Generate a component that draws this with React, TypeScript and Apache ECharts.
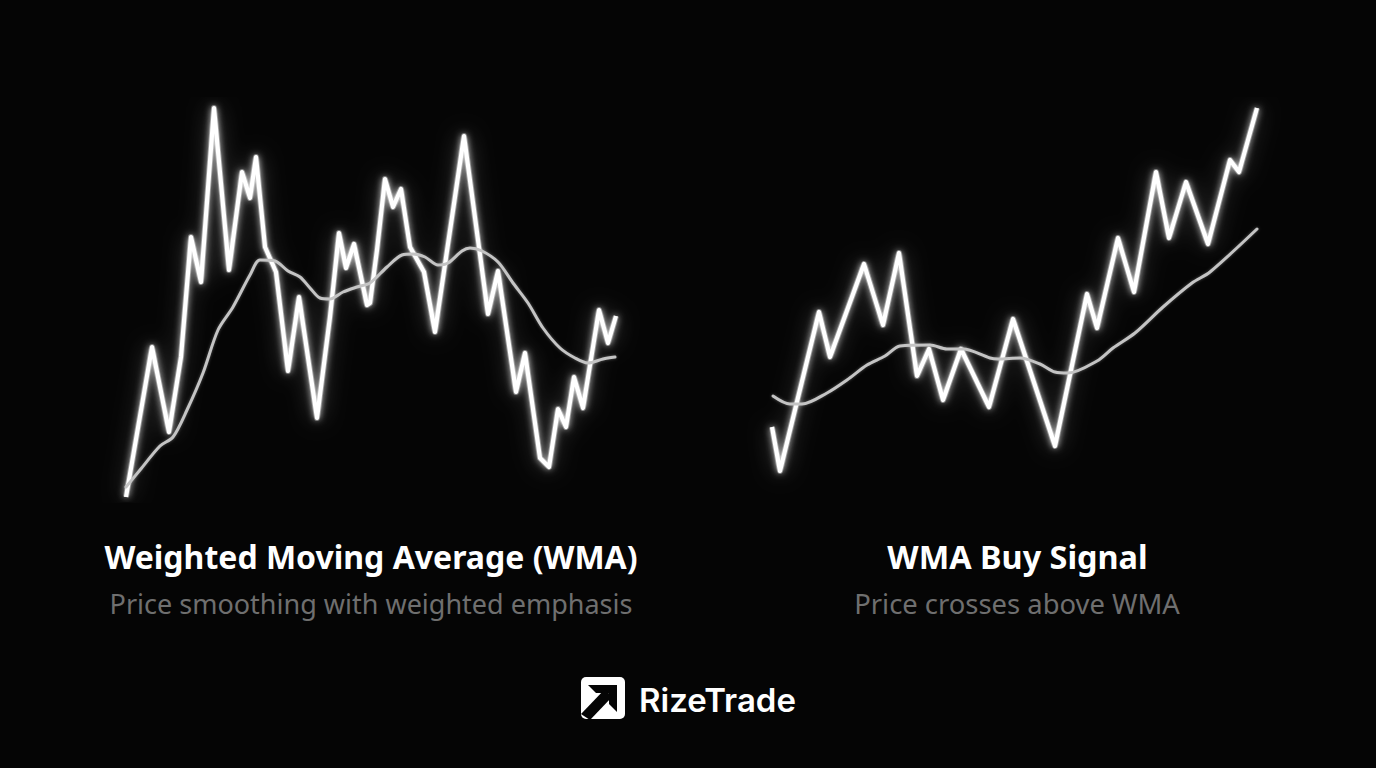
import React, { useEffect, useRef } from "react";
import * as echarts from "echarts";

const leftPriceX = [26,52,69,81,91,101,114,129,142,150,156,165,176,188,199,217,230,239,246,254,267,270,277,285,293,301,310,324,335,364,388,398,416,425,440,449,458,466,474,483,499,508,516];
const leftPriceY = [3,153,68,143,263,218,392,230,328,302,343,253,228,129,203,82,183,267,232,256,195,197,250,321,293,311,253,228,168,364,186,229,108,147,42,33,91,73,123,92,190,157,184];
const leftWmaX = [26,40,60,73,87,103,118,133,150,160,175,188,200,210,220,230,243,257,270,287,302,313,325,338,348,362,370,382,398,413,428,443,460,475,488,503,515];
const leftWmaY = [13,30,54,63,90,127,170,193,225,240,239,229,223,212,202,201,208,213,217,233,245,246,243,235,237,249,252,249,238,217,197,172,152,142,137,141,143];
const rightPriceX = [22,30,69,80,114,133,149,167,179,193,211,239,263,305,337,347,368,384,406,419,436,458,480,489,507];
const rightPriceY = [73,29,188,143,236,175,247,124,151,100,151,93,181,54,206,172,262,208,328,262,318,256,340,328,392];
const rightWmaX = [23,40,52,77,97,117,135,150,180,197,213,240,248,270,290,305,318,347,363,385,413,442,460,507];
const rightWmaY = [104,96,96,107,120,135,144,154,155,151,151,142,141,142,136,128,127,139,152,167,193,217,228,271];

const title1 = "Weighted Moving Average (WMA)";
const sub1 = "Price smoothing with weighted emphasis";
const title2 = "WMA Buy Signal";
const sub2 = "Price crosses above WMA";
const brand = "RizeTrade";

const zip = (xs: number[], ys: number[]) => xs.map((x, i) => [x, ys[i]]);

const priceGlow = (i: number, data: number[][], name: string) => ({
  type: "line", name, xAxisIndex: i, yAxisIndex: i, data, showSymbol: false, z: 2,
  lineStyle: { color: "rgba(255,255,255,0.35)", width: 6, cap: "butt", join: "round", shadowBlur: 22, shadowColor: "rgba(255,255,255,0.7)" },
});
const priceLine = (i: number, data: number[][], name: string) => ({
  type: "line", name, xAxisIndex: i, yAxisIndex: i, data, showSymbol: false, z: 3,
  lineStyle: { color: "#ffffff", width: 4.2, cap: "butt", join: "round", shadowBlur: 7, shadowColor: "rgba(255,255,255,0.9)" },
});
const wmaLine = (i: number, data: number[][], name: string) => ({
  type: "line", name, xAxisIndex: i, yAxisIndex: i, data, showSymbol: false, z: 4, smooth: 0.3,
  lineStyle: { color: "#c4c4c4", width: 3, cap: "round", shadowBlur: 3, shadowColor: "rgba(255,255,255,0.3)" },
});

const xAxis = (gridIndex: number) => ({ type: "value", gridIndex, min: 0, max: 540, show: false });
const yAxis = (gridIndex: number) => ({ type: "value", gridIndex, min: 0, max: 400, show: false });

const txt = (text: string, x: number, y: number, size: number, weight: number, fill: string, family: string, align = "center") => ({
  type: "text", x, y,
  style: { text, fill, fontSize: size, fontWeight: weight, fontFamily: family, align, verticalAlign: "middle" },
});

export default function App() {
  const ref = useRef<HTMLDivElement>(null);
  useEffect(() => {
    document.body.style.margin = "0";
    document.body.style.background = "#050505";
    const chart = echarts.init(ref.current!, null, { renderer: "svg" });
    chart.setOption({
      animation: false,
      backgroundColor: "#050505",
      grid: [
        { left: 100, top: 100, width: 540, height: 400 },
        { left: 750, top: 100, width: 540, height: 400 },
      ],
      xAxis: [xAxis(0), xAxis(1)],
      yAxis: [yAxis(0), yAxis(1)],
      series: [
        priceGlow(0, zip(leftPriceX, leftPriceY), "Price glow"),
        priceLine(0, zip(leftPriceX, leftPriceY), "Price"),
        wmaLine(0, zip(leftWmaX, leftWmaY), "WMA"),
        priceGlow(1, zip(rightPriceX, rightPriceY), "Price glow"),
        priceLine(1, zip(rightPriceX, rightPriceY), "Price"),
        wmaLine(1, zip(rightWmaX, rightWmaY), "WMA"),
      ],
      graphic: [
        txt(title1, 371, 556, 32, 700, "#ffffff", "Noto Sans"),
        txt(sub1, 371, 603, 27, 400, "#6f6f6f", "Noto Sans"),
        txt(title2, 1017.5, 556, 32.4, 700, "#ffffff", "Noto Sans"),
        txt(sub2, 1017, 603, 27.4, 400, "#6f6f6f", "Noto Sans"),
        { type: "rect", x: 581, y: 677, shape: { width: 44, height: 42, r: 5 }, style: { fill: "#ffffff" } },
        { type: "polygon", shape: { points: [[588,685],[617,685],[617,712],[609,704],[609,693],[596,693]] }, style: { fill: "#050505" } },
        { type: "polygon", shape: { points: [[581,714],[605,689],[612,697],[590,720]] }, style: { fill: "#050505" } },
        txt(brand, 639, 700, 33, 600, "#ffffff", "Inter", "left"),
      ],
    });
    return () => chart.dispose();
  }, []);
  return <div ref={ref} style={{ width: 1376, height: 768, position: "absolute", left: 0, top: 0 }} />;
}
